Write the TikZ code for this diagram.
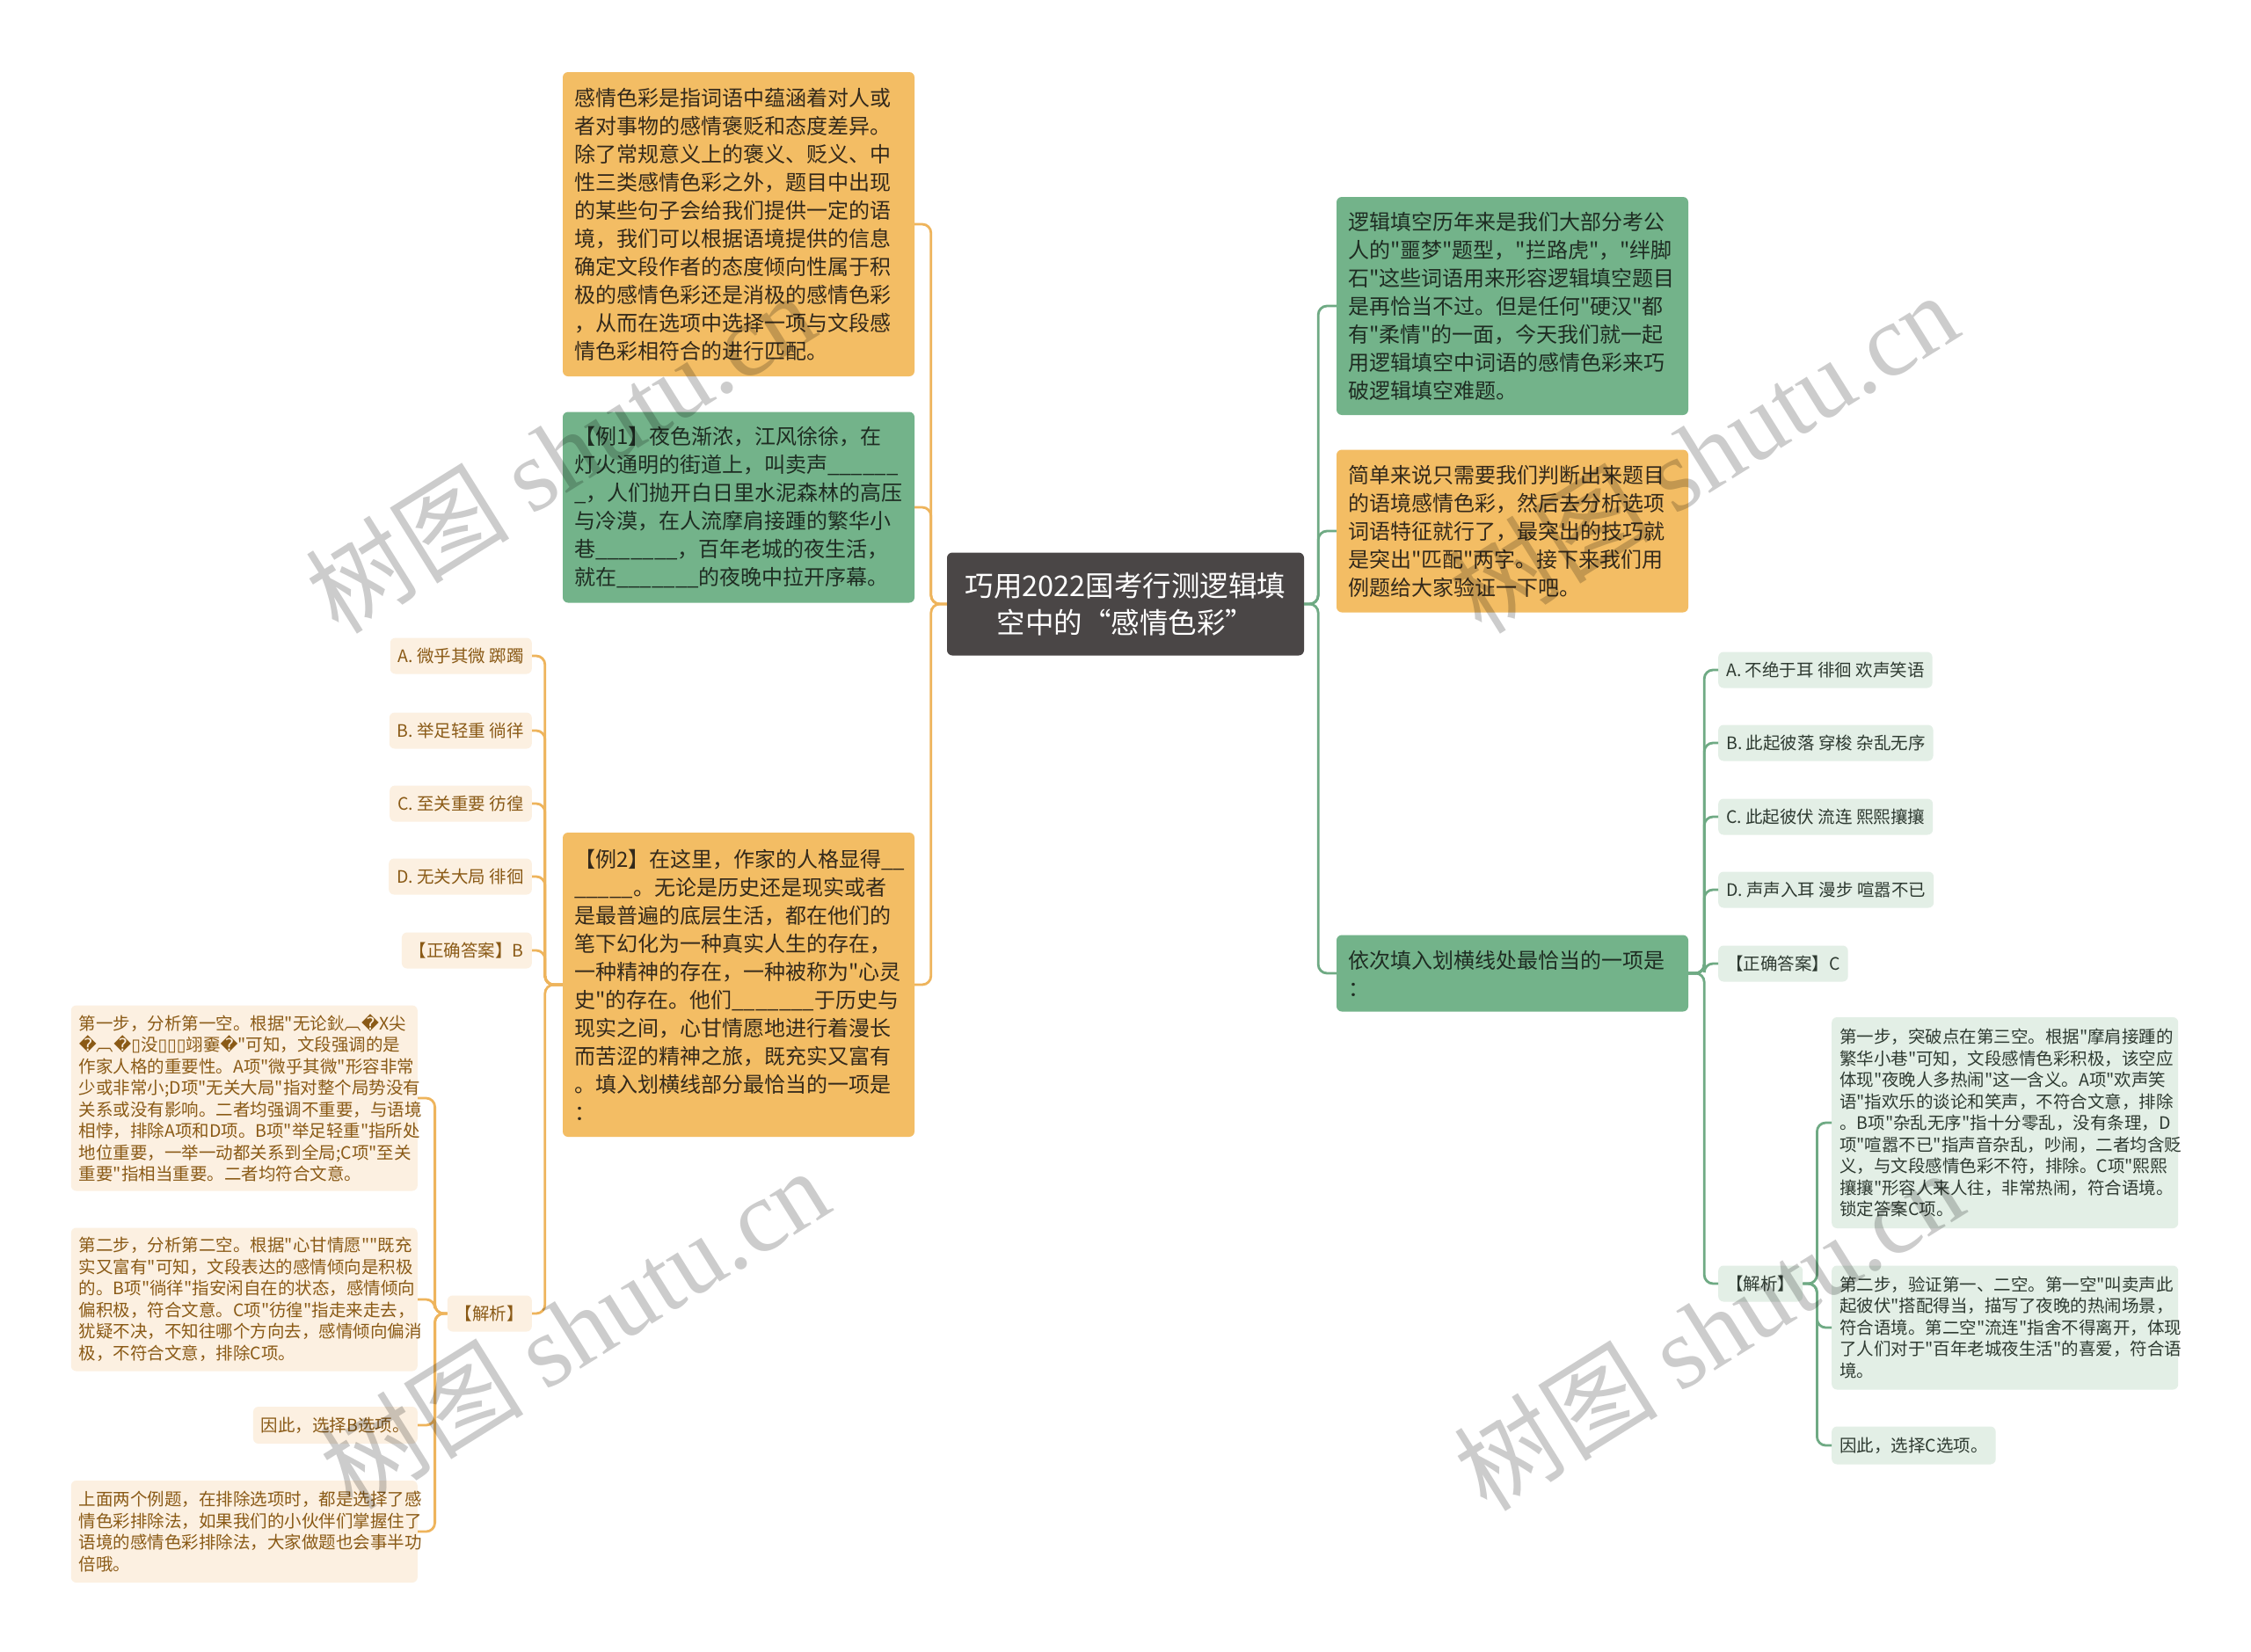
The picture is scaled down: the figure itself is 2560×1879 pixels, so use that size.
\documentclass[tikz,border=0pt]{standalone}
\usepackage{fontspec}
\setmainfont{Noto Sans CJK SC}
\newfontfamily\cjk{Noto Sans CJK SC}
\newfontfamily\symfont{DejaVu Sans}
\newfontfamily\wmlatin{Liberation Serif}
\usetikzlibrary{positioning}

\definecolor{centerfill}{HTML}{4A4646}
\definecolor{orangefill}{HTML}{F3BD64}
\definecolor{greenfill}{HTML}{73B38A}
\definecolor{lightorange}{HTML}{FCF0E1}
\definecolor{lightgreen}{HTML}{E3EFE6}
\definecolor{brownink}{HTML}{8A5A16}
\definecolor{darkink}{HTML}{33291B}
\definecolor{greenink}{HTML}{1E2C22}
\definecolor{grayink}{HTML}{2E3A31}
\definecolor{orangeline}{HTML}{EEB45C}
\definecolor{greenline}{HTML}{6FAA84}

\newcommand{\rpl}{{\symfont\symbol{"FFFD}}}
\newcommand{\tofu}{{\symfont\symbol{"25AF}}}

\begin{document}
\begin{tikzpicture}[x=1pt,y=-1pt,
		every node/.style={inner sep=0pt},
		bigbox/.style={rounded corners=6pt, inner xsep=13pt, align=left, text width=374pt, font=\cjk\fontsize{24}{32}\selectfont},
		orangebox/.style={bigbox, fill=orangefill, text=darkink},
		greenbox/.style={bigbox, fill=greenfill, text=greenink},
		leafl/.style={rounded corners=6pt, fill=lightorange, text=brownink, inner xsep=9pt, minimum height=41pt, font=\cjk\fontsize{19.5}{24.5}\selectfont},
		leafr/.style={leafl, fill=lightgreen, text=grayink},
		notel/.style={leafl, align=left, text width=376pt},
		noter/.style={leafr, align=left, text width=376pt},
		lline/.style={draw=orangeline, line width=2.8pt, rounded corners=10pt},
		rline/.style={draw=greenline, line width=2.8pt, rounded corners=10pt},
		wmark/.style={rotate=32, text=black, text opacity=0.2, font=\cjk\fontsize{116}{116}\selectfont}]
		\useasboundingbox (0,0) rectangle (2560,1879);
		\fill[white] (0,0) rectangle (2560,1879);
		% centre
		\node[fill=centerfill, text=white, rounded corners=6pt, minimum width=406pt, minimum height=117pt, align=center, font=\cjk\fontsize{32.5}{42}\selectfont] (title) at (1280,687) {巧用2022国考行测逻辑填\\空中的“感情色彩”};
		% left branch
		\node[orangebox, minimum height=346pt] (defn) at (840,255) {感情色彩是指词语中蕴涵着对人或\\者对事物的感情褒贬和态度差异。\\除了常规意义上的褒义、贬义、中\\性三类感情色彩之外，题目中出现\\的某些句子会给我们提供一定的语\\境，我们可以根据语境提供的信息\\确定文段作者的态度倾向性属于积\\极的感情色彩还是消极的感情色彩\\，从而在选项中选择一项与文段感\\情色彩相符合的进行匹配。};
		\node[greenbox, minimum height=217pt] (exone) at (840,577) {【例1】夜色渐浓，江风徐徐，在\\灯火通明的街道上，叫卖声\_\_\_\_\_\_\\\_，人们抛开白日里水泥森林的高压\\与冷漠，在人流摩肩接踵的繁华小\\巷\_\_\_\_\_\_\_，百年老城的夜生活，\\就在\_\_\_\_\_\_\_的夜晚中拉开序幕。};
		\node[orangebox, minimum height=346pt] (extwo) at (840,1120) {【例2】在这里，作家的人格显得\_\_\\\_\_\_\_\_。无论是历史还是现实或者\\是最普遍的底层生活，都在他们的\\笔下幻化为一种真实人生的存在，\\一种精神的存在，一种被称为"心灵\\史"的存在。他们\_\_\_\_\_\_\_于历史与\\现实之间，心甘情愿地进行着漫长\\而苦涩的精神之旅，既充实又富有\\。填入划横线部分最恰当的一项是\\：};
		\node[leafl, anchor=east] (la) at (605,746) {A. 微乎其微 踯躅};
		\node[leafl, anchor=east] (lb) at (605,831) {B. 举足轻重 徜徉};
		\node[leafl, anchor=east] (lc) at (605,914) {C. 至关重要 彷徨};
		\node[leafl, anchor=east] (ld) at (605,997) {D. 无关大局 徘徊};
		\node[leafl, anchor=east] (lkey) at (605,1081) {【正确答案】B};
		\node[leafl, anchor=east] (ljx) at (605,1494) {【解析】};
		\node[notel, anchor=east, minimum height=211pt] (tone) at (475,1249) {第一步，分析第一空。根据"无论鈥︹\rpl X尖\\\rpl︹\rpl\tofu 没\tofu\tofu\tofu 翊嫑\rpl"可知，文段强调的是\\作家人格的重要性。A项"微乎其微"形容非常\\少或非常小;D项"无关大局"指对整个局势没有\\关系或没有影响。二者均强调不重要，与语境\\相悖，排除A项和D项。B项"举足轻重"指所处\\地位重要，一举一动都关系到全局;C项"至关\\重要"指相当重要。二者均符合文意。};
		\node[notel, anchor=east, minimum height=163pt] (ttwo) at (475,1478) {第二步，分析第二空。根据"心甘情愿""既充\\实又富有"可知，文段表达的感情倾向是积极\\的。B项"徜徉"指安闲自在的状态，感情倾向\\偏积极，符合文意。C项"彷徨"指走来走去，\\犹疑不决，不知往哪个方向去，感情倾向偏消\\极，不符合文意，排除C项。};
		\node[leafl, anchor=east, minimum height=42pt] (tthree) at (475,1621) {因此，选择B选项。};
		\node[notel, anchor=east, minimum height=116pt] (tfour) at (475,1742) {上面两个例题，在排除选项时，都是选择了感\\情色彩排除法，如果我们的小伙伴们掌握住了\\语境的感情色彩排除法，大家做题也会事半功\\倍哦。};
		% right branch
		\node[greenbox, minimum height=248pt] (intro) at (1720,348) {逻辑填空历年来是我们大部分考公\\人的"噩梦"题型，"拦路虎"，"绊脚\\石"这些词语用来形容逻辑填空题目\\是再恰当不过。但是任何"硬汉"都\\有"柔情"的一面，今天我们就一起\\用逻辑填空中词语的感情色彩来巧\\破逻辑填空难题。};
		\node[orangebox, minimum height=185pt] (tip) at (1720,604) {简单来说只需要我们判断出来题目\\的语境感情色彩，然后去分析选项\\词语特征就行了，最突出的技巧就\\是突出"匹配"两字。接下来我们用\\例题给大家验证一下吧。};
		\node[greenbox, minimum height=87pt] (ask) at (1720,1107) {依次填入划横线处最恰当的一项是\\：};
		\node[leafr, anchor=west] (ra) at (1954,762) {A. 不绝于耳 徘徊 欢声笑语};
		\node[leafr, anchor=west] (rb) at (1954,845) {B. 此起彼落 穿梭 杂乱无序};
		\node[leafr, anchor=west] (rc) at (1954,929) {C. 此起彼伏 流连 熙熙攘攘};
		\node[leafr, anchor=west] (rd) at (1954,1012) {D. 声声入耳 漫步 喧嚣不已};
		\node[leafr, anchor=west] (rkey) at (1954,1096) {【正确答案】C};
		\node[leafr, anchor=west] (rjx) at (1954,1460) {【解析】};
		\node[noter, anchor=west, minimum height=240pt] (sone) at (2083,1277) {第一步，突破点在第三空。根据"摩肩接踵的\\繁华小巷"可知，文段感情色彩积极，该空应\\体现"夜晚人多热闹"这一含义。A项"欢声笑\\语"指欢乐的谈论和笑声，不符合文意，排除\\。B项"杂乱无序"指十分零乱，没有条理，D\\项"喧嚣不已"指声音杂乱，吵闹，二者均含贬\\义，与文段感情色彩不符，排除。C项"熙熙\\攘攘"形容人来人往，非常热闹，符合语境。\\锁定答案C项。};
		\node[noter, anchor=west, minimum height=141pt] (stwo) at (2083,1510) {第二步，验证第一、二空。第一空"叫卖声此\\起彼伏"搭配得当，描写了夜晚的热闹场景，\\符合语境。第二空"流连"指舍不得离开，体现\\了人们对于"百年老城夜生活"的喜爱，符合语\\境。};
		\node[leafr, anchor=west, minimum height=43pt] (sthree) at (2083,1644) {因此，选择C选项。};
		% connectors
		\foreach \kid in {defn,exone,extwo}
			\draw[lline] (title.west) -- ++(-18,0) |- (\kid.east);
		\foreach \kid in {la,lb,lc,ld,lkey,ljx}
			\draw[lline] (extwo.west) -- ++(-20,0) |- (\kid.east);
		\foreach \kid in {tone,ttwo,tthree,tfour}
			\draw[lline] (ljx.west) -- ++(-14,0) |- (\kid.east);
		\foreach \kid in {intro,tip,ask}
			\draw[rline] (title.east) -- ++(16,0) |- (\kid.west);
		\foreach \kid in {ra,rb,rc,rd,rkey,rjx}
			\draw[rline] (ask.east) -- ++(18,0) |- (\kid.west);
		\foreach \kid in {sone,stwo,sthree}
			\draw[rline] (rjx.east) -- ++(16,0) |- (\kid.west);
		% watermarks
		\node[wmark] (wmone) at (637,514) {树图 {\wmlatin shutu.cn}};
		\node[wmark] (wmtwo) at (1937,514) {树图 {\wmlatin shutu.cn}};
		\node[wmark] (wmthree) at (653,1510) {树图 {\wmlatin shutu.cn}};
		\node[wmark] (wmfour) at (1943,1512) {树图 {\wmlatin shutu.cn}};
\end{tikzpicture}
\end{document}
